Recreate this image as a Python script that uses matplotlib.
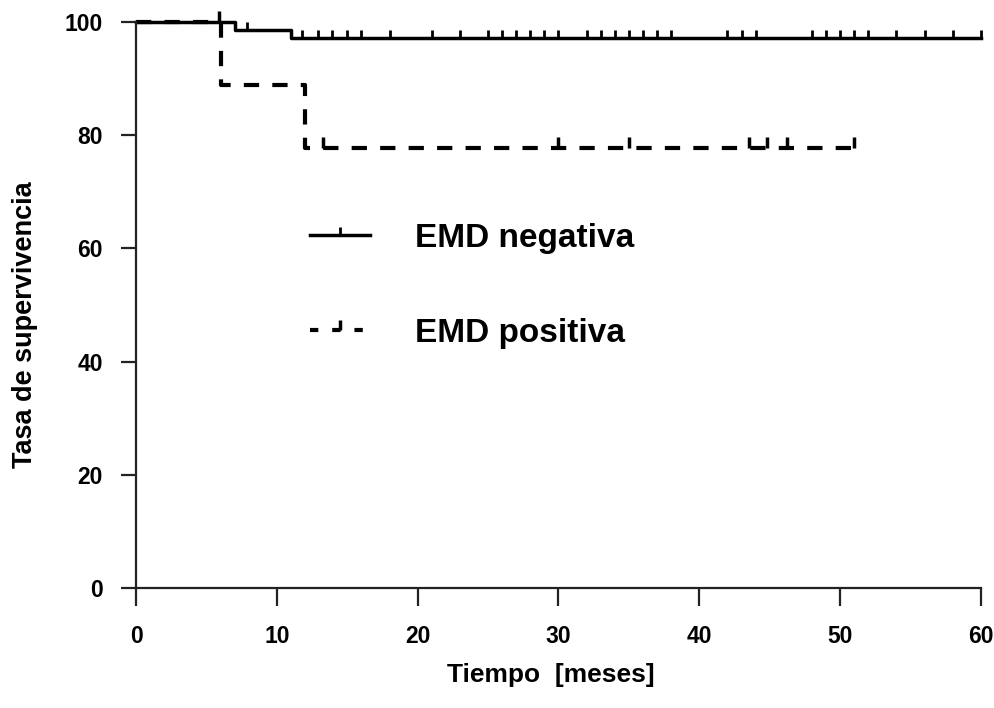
import numpy as np
import matplotlib
matplotlib.use("Agg")
import matplotlib.pyplot as plt
from matplotlib.lines import Line2D

plt.rcParams["font.family"] = ["Liberation Sans", "DejaVu Sans"]
plt.rcParams["font.weight"] = "bold"
plt.rcParams["lines.scale_dashes"] = False

# EMD negativa: step times (months) and survival (%)
neg_times = [0, 7, 11]
neg_surv = [100, 98.6, 97.2]
neg_end = 60
neg_censored = [7.9, 11.8, 12.9, 13.9, 15, 16, 18, 21, 23, 25, 26, 27, 28, 29,
                30, 32, 33, 34, 35, 36, 37, 38, 42, 43, 44, 48, 49, 50, 51, 52,
                54, 56, 58, 60]

# EMD positiva
pos_times = [0, 6, 12]
pos_surv = [100, 88.9, 77.8]
pos_end = 51
pos_censored = [5.9, 13.3, 30, 35, 43.5, 44.8, 46.2, 51]

labels = ["EMD negativa", "EMD positiva"]
xticks = [0, 10, 20, 30, 40, 50, 60]
yticks = [0, 20, 40, 60, 80, 100]


def surv_at(times, surv, t):
    i = np.searchsorted(times, t, side="right") - 1
    return np.array(surv)[i]


def main():
    fig = plt.figure(figsize=(9.95, 7.08), dpi=100)
    ax = fig.add_axes([0.1367, 0.1695, 0.8492, 0.7994])

    dash = (11, 9.5)

    # positiva (dashed) first so the solid line sits on top
    ax.step(pos_times + [pos_end], pos_surv + [pos_surv[-1]], where="post",
            color="black", lw=3, dashes=dash, clip_on=False)
    ax.plot(pos_censored, surv_at(pos_times, pos_surv, pos_censored),
            ls="none", marker=2, ms=8, mew=2.5, color="black", clip_on=False)

    ax.step(neg_times + [neg_end], neg_surv + [neg_surv[-1]], where="post",
            color="black", lw=2.5, clip_on=False)
    ax.plot(neg_censored, surv_at(neg_times, neg_surv, neg_censored),
            ls="none", marker=2, ms=6, mew=2, color="black", clip_on=False)

    ax.set_xlim(0, 60)
    ax.set_ylim(0, 100)
    ax.set_xticks(xticks)
    ax.set_yticks(yticks)
    for s in ["top", "right"]:
        ax.spines[s].set_visible(False)
    for s in ["left", "bottom"]:
        ax.spines[s].set_linewidth(1.6)
        ax.spines[s].set_color("#222222")
    ax.tick_params(axis="x", direction="out", length=13, width=1.6,
                   color="#222222", pad=14, labelsize=16.5)
    ax.tick_params(axis="y", direction="out", length=11, width=1.6,
                   color="#222222", pad=13, labelsize=16.5)

    ax.set_xlabel("Tiempo  [meses]", fontsize=19, fontweight="bold")
    ax.xaxis.set_label_coords(0.491, -0.133)
    ax.set_ylabel("Tasa de supervivencia", fontsize=19.5, fontweight="bold")
    ax.yaxis.set_label_coords(-0.116, 0.465)

    handles = [
        Line2D([], [], color="black", lw=2.5, marker=2, ms=6, mew=2),
        Line2D([], [], color="black", lw=3, dashes=(6, 10), marker=2, ms=7,
               mew=2.5),
    ]
    leg = ax.legend(handles, labels, loc="upper left",
                    bbox_to_anchor=(0.3116, 0.685),
                    bbox_transform=fig.transFigure, frameon=False,
                    fontsize=24, numpoints=1, handlelength=1.8,
                    handletextpad=1.35, labelspacing=1.92, borderpad=0,
                    borderaxespad=0)
    for t in leg.get_texts():
        t.set_fontweight("bold")

    fig.savefig("out.png", dpi=100)


if __name__ == "__main__":
    main()
